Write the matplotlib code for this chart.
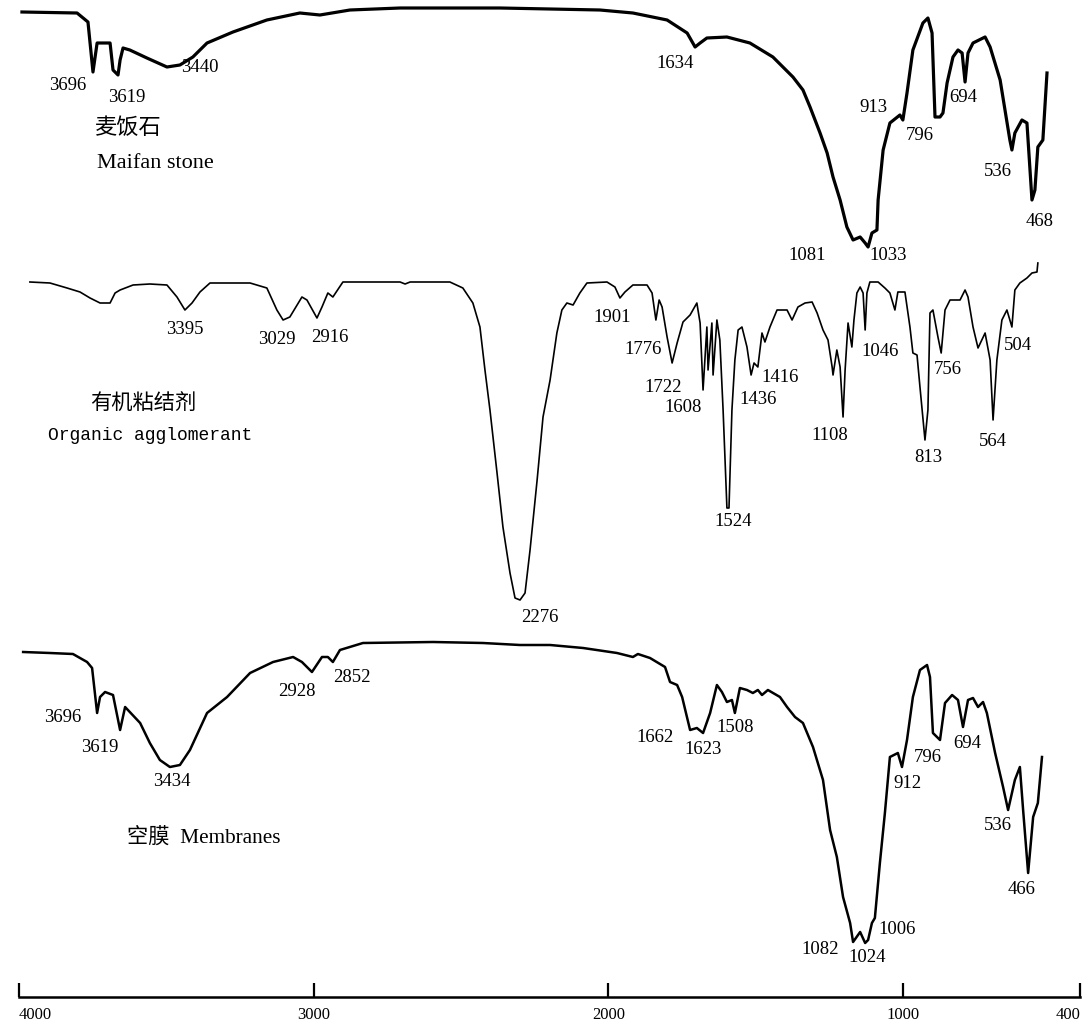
import matplotlib
matplotlib.use("Agg")
import matplotlib.pyplot as plt

# FTIR spectra: wavenumber (cm-1) and relative transmittance (a.u.)

# Maifan stone
maifan_wn = [3990, 3803, 3766, 3749, 3735, 3725, 3691, 3681, 3664, 3657,
             3647, 3624, 3566, 3498, 3454, 3410, 3362, 3274, 3159, 3047,
             2979, 2877, 2707, 2368, 2029, 1917, 1801, 1733, 1706, 1689,
             1666, 1598, 1520, 1442, 1374, 1340, 1316, 1282, 1258, 1238,
             1214, 1191, 1170, 1146, 1129, 1119, 1106, 1089, 1085, 1068,
             1045, 1011, 1001, 987, 967, 933, 916, 902, 892, 875,
             865, 851, 831, 814, 800, 790, 780, 763, 722, 705,
             671, 638, 631, 621, 597, 580, 563, 553, 543, 526,
             512]
maifan_t = [238, 237, 228, 178, 207, 207, 207, 180, 175, 190,
            202, 200, 192, 183, 185, 193, 207, 218, 230, 237,
            235, 240, 242, 242, 240, 237, 230, 217, 203, 207,
            212, 213, 207, 193, 173, 160, 143, 117, 97, 73,
            50, 23, 10, 13, 7, 3, 17, 20, 50, 100,
            127, 135, 130, 157, 200, 227, 232, 217, 133, 133,
            137, 167, 193, 200, 197, 168, 197, 207, 213, 203,
            170, 110, 100, 117, 130, 127, 50, 60, 103, 110,
            177]
maifan_peaks = ["3696", "3619", "3440", "1634", "913", "796", "694",
                "536", "468", "1081", "1033"]

# Organic agglomerant
organic_wn = [3963, 3895, 3837, 3793, 3759, 3725, 3691, 3674, 3657, 3613,
              3556, 3498, 3464, 3437, 3413, 3386, 3352, 3216, 3159, 3125,
              3104, 3081, 3040, 3023, 2989, 2972, 2952, 2935, 2901, 2707,
              2690, 2673, 2605, 2538, 2494, 2460, 2436, 2419, 2402, 2378,
              2358, 2334, 2317, 2300, 2283, 2266, 2242, 2222, 2198, 2175,
              2158, 2141, 2120, 2097, 2073, 2005, 1978, 1961, 1944, 1917,
              1869, 1852, 1839, 1828, 1818, 1801, 1784, 1767, 1747, 1723,
              1700, 1689, 1679, 1666, 1662, 1649, 1645, 1632, 1622, 1611,
              1598, 1591, 1581, 1571, 1560, 1547, 1530, 1516, 1506, 1493,
              1479, 1469, 1452, 1428, 1394, 1377, 1357, 1333, 1309, 1292,
              1272, 1255, 1241, 1238, 1225, 1214, 1204, 1197, 1187, 1174,
              1167, 1157, 1146, 1136, 1129, 1123, 1113, 1085, 1062, 1045,
              1028, 1018, 994, 977, 967, 953, 943, 926, 916, 909,
              899, 882, 871, 858, 841, 807, 790, 780, 763, 746,
              722, 705, 695, 682, 665, 648, 631, 621, 604, 580,
              563, 546, 543]
organic_t = [328, 327, 322, 318, 312, 307, 307, 317, 320, 325,
             326, 325, 313, 300, 307, 318, 327, 327, 322, 300,
             290, 293, 313, 310, 292, 303, 317, 313, 328, 328,
             326, 328, 328, 328, 322, 307, 283, 240, 200, 137,
             83, 37, 12, 10, 17, 60, 130, 193, 230, 277,
             300, 307, 305, 317, 327, 328, 323, 312, 318, 325,
             325, 317, 290, 310, 303, 273, 247, 267, 288, 295,
             307, 287, 220, 283, 240, 287, 235, 290, 270, 200,
             102, 102, 200, 250, 280, 283, 263, 235, 247, 243,
             277, 268, 283, 300, 300, 290, 303, 307, 308, 297,
             280, 270, 243, 235, 260, 243, 193, 240, 287, 263,
             290, 317, 323, 317, 280, 317, 328, 328, 322, 317,
             300, 318, 318, 283, 257, 255, 223, 170, 200, 297,
             300, 273, 257, 300, 310, 310, 320, 313, 283, 262,
             277, 250, 190, 250, 290, 300, 283, 320, 327, 332,
             337, 338, 347]
organic_peaks = ["3395", "3029", "2916", "2276", "1901", "1776", "1722",
                 "1608", "1524", "1436", "1416", "1108", "1046", "813",
                 "756", "564", "504"]

# Membranes
membrane_wn = [3986, 3895, 3817, 3769, 3752, 3735, 3725, 3708, 3681, 3657,
               3640, 3589, 3556, 3522, 3488, 3454, 3420, 3362, 3294, 3216,
               3138, 3070, 3040, 3006, 2972, 2952, 2935, 2911, 2833, 2595,
               2426, 2300, 2198, 2086, 1971, 1917, 1900, 1859, 1808, 1791,
               1767, 1750, 1723, 1700, 1679, 1655, 1632, 1615, 1598, 1581,
               1571, 1554, 1530, 1510, 1493, 1479, 1459, 1418, 1394, 1367,
               1340, 1306, 1272, 1248, 1225, 1204, 1180, 1170, 1146, 1129,
               1119, 1106, 1096, 1079, 1062, 1045, 1018, 1004, 987, 967,
               943, 919, 909, 899, 875, 858, 834, 814, 797, 780,
               763, 746, 729, 716, 688, 661, 644, 621, 604, 593,
               576, 559, 543, 529]
membrane_t = [308, 307, 306, 298, 292, 247, 263, 268, 265, 230,
              253, 237, 217, 200, 193, 195, 210, 247, 263, 287,
              298, 303, 298, 288, 303, 303, 298, 310, 317, 318,
              317, 315, 315, 312, 307, 303, 306, 302, 293, 278,
              275, 263, 230, 232, 227, 247, 275, 268, 258, 260,
              247, 272, 270, 267, 270, 265, 270, 263, 253, 243,
              237, 213, 180, 130, 103, 63, 37, 18, 28, 17,
              20, 37, 42, 97, 147, 203, 207, 193, 220, 263,
              290, 295, 283, 227, 220, 257, 265, 260, 233, 260,
              262, 253, 258, 247, 207, 173, 150, 180, 193, 150,
              87, 143, 157, 203]
membrane_peaks = ["3696", "3619", "3434", "2928", "2852", "1662", "1623",
                  "1508", "1082", "1024", "1006", "912", "796", "694",
                  "536", "466"]

# stacking offsets and label placement
maifan_offset = 747
organic_offset = 387
membrane_offset = 37

maifan_lx = [3834, 3634, 3386, 1774, 1102, 943, 797, 678, 536, 1326, 1052]
maifan_ly = [911, 899, 929, 934, 889, 862, 899, 825, 775, 742, 742]
organic_lx = [3437, 3125, 2945, 2232, 1988, 1883, 1815, 1747, 1577, 1493,
              1418, 1248, 1079, 916, 848, 695, 610]
organic_ly = [667, 657, 659, 380, 680, 647, 609, 590, 475, 597,
              619, 562, 645, 539, 627, 555, 652]
membrane_lx = [3851, 3725, 3481, 3057, 2870, 1842, 1679, 1571, 1282, 1123,
               1021, 987, 916, 783, 678, 597]
membrane_ly = [280, 250, 215, 305, 319, 260, 247, 270, 47, 39,
               67, 214, 240, 254, 172, 107]

serif = ["Liberation Serif", "Noto Sans CJK SC"]

fig = plt.figure(figsize=(10.9, 10.29), dpi=100)
ax = fig.add_axes([19 / 1090, 32 / 1029, 1061 / 1090, 997 / 1029])

spectra = [
    (maifan_wn, maifan_t, maifan_offset, 2.3, maifan_peaks, maifan_lx, maifan_ly),
    (organic_wn, organic_t, organic_offset, 1.2, organic_peaks, organic_lx, organic_ly),
    (membrane_wn, membrane_t, membrane_offset, 1.8, membrane_peaks, membrane_lx, membrane_ly),
]
for wn, t, off, lw, peaks, lx, ly in spectra:
    ax.plot(wn, [v + off for v in t], color="black", lw=lw, solid_joinstyle="round")
    for s, x, y in zip(peaks, lx, ly):
        ax.text(x, y, s, ha="center", va="center", fontsize=13.5, family=serif)

# sample names
ax.text(3630, 869, "麦饭石", ha="center", va="center", fontsize=16,
        family=["Noto Sans CJK SC"])
ax.text(3735, 834, "Maifan stone", ha="left", va="center", fontsize=16,
        family=serif)
ax.text(3579, 594, "有机粘结剂", ha="center", va="center", fontsize=15.3,
        family=["Noto Sans CJK SC"])
ax.text(3902, 562, "Organic agglomerant", ha="left", va="center", fontsize=13,
        family=["Liberation Mono"])
ax.text(3634, 159, "空膜  Membranes", ha="left", va="center", fontsize=15.3,
        family=serif)

ax.set_xlim(4000, 400)
ax.set_ylim(0, 997)
for side in ["left", "right", "top"]:
    ax.spines[side].set_visible(False)
ax.spines["bottom"].set_linewidth(1.8)
ax.set_yticks([])
ax.set_xticks([4000, 3000, 2000, 1000, 400])
ax.set_xticklabels(["4000", "3000", "2000", "1000", "400"], family="Liberation Serif")
ax.tick_params(axis="x", direction="in", length=10, width=1.6, labelsize=12, pad=7)
tick_labels = ax.get_xticklabels()
tick_labels[0].set_ha("left")
tick_labels[-1].set_ha("right")

fig.savefig("out.png", dpi=100)
